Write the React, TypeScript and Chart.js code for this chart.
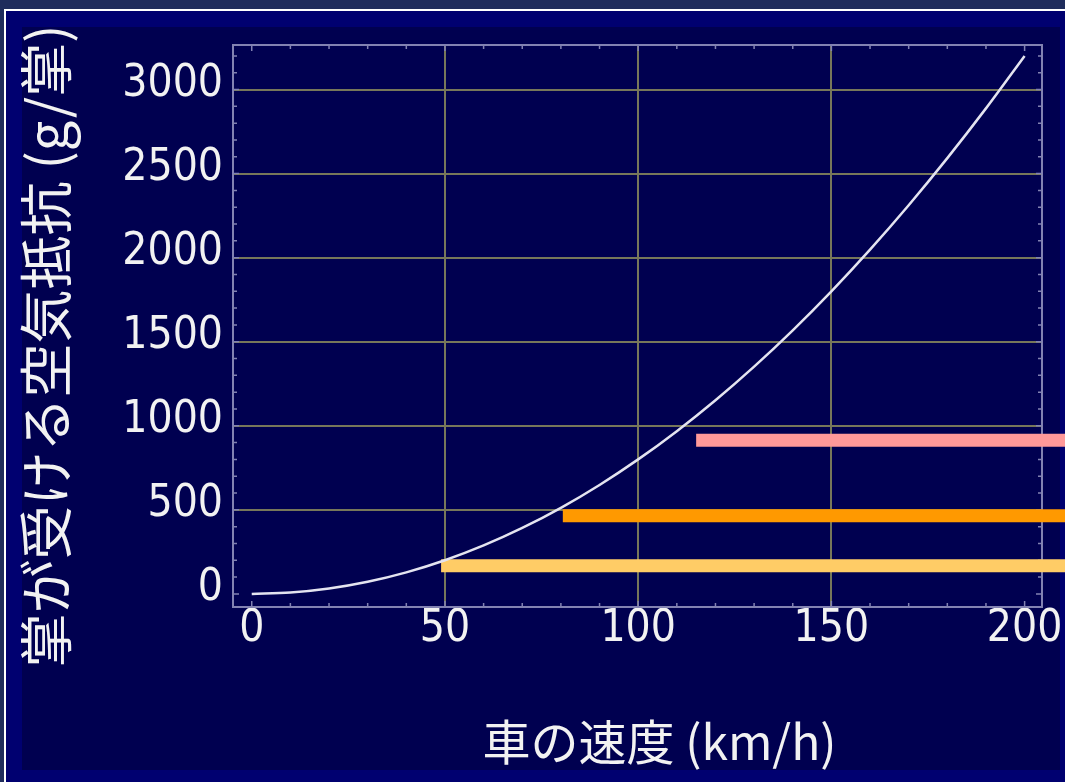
import React, { useEffect, useRef } from "react";
import { Chart, registerables } from "chart.js";

Chart.register(...registerables);

// ---- data ----
const speeds = [0, 10, 20, 30, 40, 50, 60, 70, 80, 90, 100, 110, 120, 130, 140, 150, 160, 170, 180, 190, 200];
const resistance = [0, 8, 32, 72, 128, 200, 288, 392, 512, 648, 800, 968, 1152, 1352, 1568, 1800, 2048, 2312, 2592, 2888, 3200];

const xTickValues = [0, 50, 100, 150, 200];
const yTickValues = [0, 500, 1000, 1500, 2000, 2500, 3000];

const barNames = ["level-high", "level-mid", "level-low"];
const barLevels = [914, 465, 168];
const barStarts = [115, 80.5, 49];
const barEnd = 212;

const xTitle = "車の速度 (km/h)";
const yTitle = "掌が受ける空気抵抗 (g/掌)";

// ---- styles ----
const barColors = ["#ff9999", "#ff9900", "#ffcc66"];
const curveColor = "#e4e4f0";
const frameColor = "#8282b2";
const gridColor = "#77775a";
const textColor = "#f2f2f2";
const tickFont = "'Liberation Sans Narrow', 'Arial Narrow', 'DejaVu Sans Condensed', sans-serif";
const cjkFont = "'Noto Sans CJK JP', 'Noto Sans', sans-serif";

const W = 1065;
const H = 782;

const framePlugin = {
  id: "frameTicks",
  beforeDatasetsDraw(chart: any) {
    const { ctx, chartArea } = chart;
    const xs = chart.scales.x;
    const ys = chart.scales.y;
    const { left, right, top, bottom } = chartArea;
    ctx.save();
    ctx.strokeStyle = frameColor;
    ctx.lineWidth = 2;
    ctx.strokeRect(left, top, right - left, bottom - top);
    ctx.lineWidth = 1.5;
    ctx.beginPath();
    for (let v = 0; v <= 200; v += 10) {
      const p = xs.getPixelForValue(v);
      const len = v % 50 === 0 ? 6 : 4;
      ctx.moveTo(p, bottom);
      ctx.lineTo(p, bottom - len);
      ctx.moveTo(p, top);
      ctx.lineTo(p, top + len);
    }
    for (let v = 0; v <= 3200; v += 100) {
      const p = ys.getPixelForValue(v);
      const len = v % 500 === 0 ? 6 : 4;
      ctx.moveTo(left, p);
      ctx.lineTo(left + len, p);
      ctx.moveTo(right, p);
      ctx.lineTo(right - len, p);
    }
    ctx.stroke();
    ctx.restore();
  },
};

const titlePlugin = {
  id: "axisTitles",
  afterDraw(chart: any) {
    const { ctx, chartArea } = chart;
    ctx.save();
    ctx.fillStyle = textColor;
    ctx.textAlign = "center";
    ctx.textBaseline = "middle";
    ctx.font = `48px ${cjkFont}`;
    const cx = (chartArea.left + chartArea.right) / 2 + 22;
    ctx.fillText(xTitle, cx, 742);
    ctx.font = `54px ${cjkFont}`;
    const cy = (chartArea.top + chartArea.bottom) / 2 + 20;
    ctx.translate(46, cy);
    ctx.rotate(-Math.PI / 2);
    ctx.fillText(yTitle, 0, 0);
    ctx.restore();
  },
};

export default function App() {
  const ref = useRef<HTMLCanvasElement | null>(null);

  useEffect(() => {
    if (!ref.current) return;
    const curve = speeds.map((s, i) => ({ x: s, y: resistance[i] }));
    const bars = barLevels.map((lvl, i) => ({
      type: "line" as const,
      label: barNames[i],
      data: [
        { x: barStarts[i], y: lvl },
        { x: barEnd, y: lvl },
      ],
      borderColor: barColors[i],
      borderWidth: 13,
      borderCapStyle: "butt" as const,
      pointRadius: 0,
      clip: false as any,
    }));
    const chart = new Chart(ref.current, {
      type: "line",
      data: {
        datasets: [
          {
            label: "curve",
            data: curve,
            borderColor: curveColor,
            borderWidth: 2.5,
            pointRadius: 0,
            cubicInterpolationMode: "monotone",
          },
          ...bars,
        ] as any,
      },
      options: {
        responsive: false,
        animation: false,
        devicePixelRatio: 1,
        layout: { padding: { left: 10, top: 45, right: 23, bottom: 0 } },
        plugins: {
          legend: { display: false },
          tooltip: { enabled: false },
        },
        scales: {
          x: {
            type: "linear",
            min: -4.85,
            max: 204.5,
            afterBuildTicks: (s: any) => {
              s.ticks = xTickValues.map((v) => ({ value: v }));
            },
            afterFit: (s: any) => {
              s.height = 175;
              s.paddingLeft = 0;
              s.paddingRight = 0;
            },
            grid: {
              color: (c: any) => (c.tick && c.tick.value > 0 && c.tick.value < 200 ? gridColor : "rgba(0,0,0,0)"),
              lineWidth: 2,
              drawTicks: false,
            },
            border: { display: false },
            ticks: {
              color: textColor,
              font: { family: tickFont, size: 44, lineHeight: 1 },
              padding: 1,
              maxRotation: 0,
              autoSkip: false,
              callback: (v: any) => String(v),
            },
          },
          y: {
            type: "linear",
            min: -78,
            max: 3265,
            afterBuildTicks: (s: any) => {
              s.ticks = yTickValues.map((v) => ({ value: v }));
            },
            afterFit: (s: any) => {
              s.width = 223;
              s.paddingTop = 0;
              s.paddingBottom = 0;
            },
            grid: {
              color: (c: any) => (c.tick && c.tick.value > 0 ? gridColor : "rgba(0,0,0,0)"),
              lineWidth: 2,
              drawTicks: false,
            },
            border: { display: false },
            ticks: {
              color: textColor,
              font: { family: tickFont, size: 44, lineHeight: 1 },
              padding: 10,
              labelOffset: -5,
              autoSkip: false,
              callback: (v: any) => String(v),
            },
          },
        },
      },
      plugins: [framePlugin, titlePlugin],
    });
    return () => chart.destroy();
  }, []);

  return (
    <div style={{ position: "fixed", left: 0, top: 0, width: W, height: H, background: "#1f2c5c", overflow: "hidden" }}>
      <div
        style={{
          position: "absolute",
          left: 4,
          top: 9,
          right: 0,
          bottom: 0,
          borderTop: "2px solid #ffffff",
          borderLeft: "2px solid #ffffff",
          background: "#000070",
        }}
      />
      <div style={{ position: "absolute", left: 22, top: 27, width: 1038, height: 743, background: "#000050" }} />
      <canvas ref={ref} width={W} height={H} style={{ position: "absolute", left: 0, top: 0, width: W, height: H }} />
    </div>
  );
}
